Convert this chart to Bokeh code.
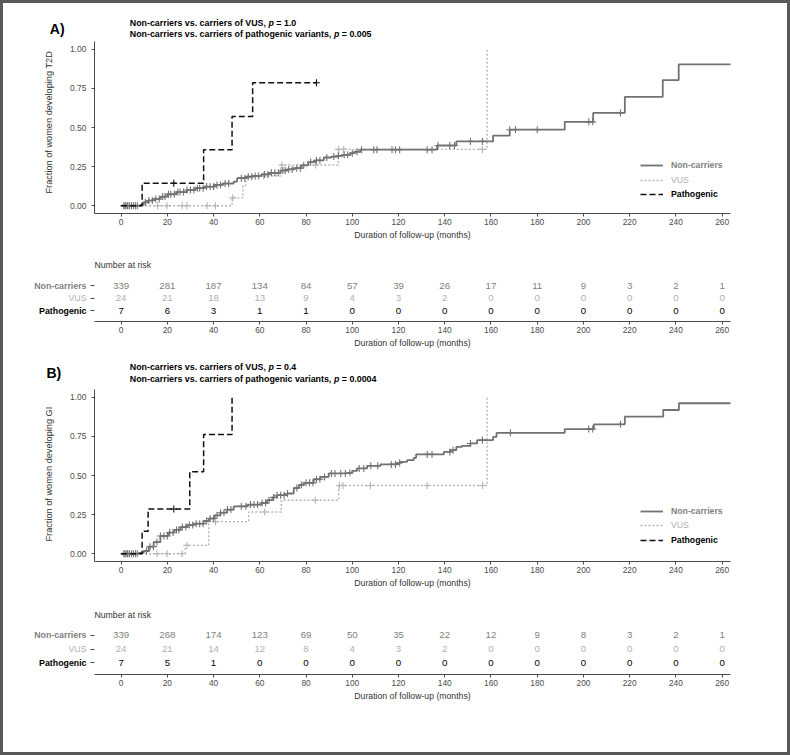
import numpy as np
from bokeh.plotting import figure
from bokeh.models import (Range1d, FixedTicker, Label, Legend, LegendItem, Title,
                          NumeralTickFormatter, ColumnDataSource)
from bokeh.layouts import column, row
from bokeh.embed import file_html
from bokeh.resources import INLINE
from bokeh.core.properties import value

FONT = "Liberation Sans"

# ---------------- data ----------------
x_ticks = list(range(0, 261, 20))
risk_times = list(range(0, 261, 20))
groups = ["Non-carriers", "VUS", "Pathogenic"]

# Panel A (T2D): cumulative fraction, step curves
a_non_t = [0, 8.5, 9.8, 12.0, 14.1, 17.0, 20.0, 24.0, 28.5, 32.0, 36.0, 40.5, 44.0, 48.7, 50.2, 54.0,
           57.0, 60.7, 64.0, 68.9, 72.0, 74.7, 78.0, 80.9, 84.0, 87.7, 91.0, 93.4, 96.0, 99.2, 101.0,
           103.5, 136.7, 145.0, 160.9, 168.1, 191.9, 204.2, 217.9, 234.3, 241.2, 264.0]
a_non_f = [0, 0.006, 0.022, 0.033, 0.043, 0.058, 0.073, 0.087, 0.100, 0.112, 0.122, 0.133, 0.142, 0.154,
           0.176, 0.185, 0.190, 0.200, 0.210, 0.225, 0.232, 0.240, 0.258, 0.279, 0.290, 0.308, 0.314,
           0.319, 0.325, 0.336, 0.345, 0.358, 0.385, 0.411, 0.448, 0.486, 0.536, 0.593, 0.696, 0.803,
           0.904, 0.904]
a_non_cens = [1.2, 2.0, 2.8, 3.6, 4.5, 5.3, 6.2, 7.0, 10.5, 12.0, 13.5, 15.0, 16.5, 18.0, 19.0, 20.5,
              21.5, 23.0, 24.5, 25.5, 27.0, 28.5, 30.0, 31.5, 33.0, 34.0, 35.5, 37.0, 38.5, 40.0, 41.5,
              43.0, 45.0, 46.5, 52.0, 53.5, 55.0, 56.5, 58.0, 59.5, 62.0, 63.5, 65.0, 66.5, 68.0, 70.0,
              71.0, 72.5, 74.0, 76.0, 77.5, 79.0, 82.0, 84.5, 86.0, 89.0, 92.0, 94.0, 96.5, 98.0, 100.0,
              102.0, 104.0, 109.3, 110.7, 117.2, 118.7, 120.5, 132.4, 134.5, 137.1, 142.2, 144.2, 151.1,
              156.3, 168.1, 170.6, 180.0, 202.3, 204.0, 216.0]
a_vus_t = [0, 48.0, 52.7, 54.0, 69.0, 94.0, 158.3]
a_vus_f = [0, 0.05, 0.13, 0.19, 0.26, 0.36, 1.0]
a_vus_cens = [1.5, 2.5, 3.5, 15.8, 19.9, 26.4, 28.5, 37.2, 40.8, 48.3, 61.7, 69.6, 84.1, 94.1, 96.3, 156.3]
a_pat_t = [0, 9.1, 35.7, 48.0, 56.9, 84.5]
a_pat_f = [0, 0.143, 0.357, 0.571, 0.786, 0.786]
a_pat_cens = [22.8, 84.5]

a_risk_non = [339, 281, 187, 134, 84, 57, 39, 26, 17, 11, 9, 3, 2, 1]
a_risk_vus = [24, 21, 18, 13, 9, 4, 3, 2, 0, 0, 0, 0, 0, 0]
a_risk_pat = [7, 6, 3, 1, 1, 0, 0, 0, 0, 0, 0, 0, 0, 0]

# Panel B (GI)
b_non_t = [0, 7.6, 9.8, 12.0, 14.1, 17.0, 20.3, 23.0, 25.7, 28.5, 31.4, 35.7, 38.0, 40.5, 43.0, 45.9,
           48.7, 54.6, 60.7, 63.2, 65.5, 67.5, 71.8, 74.7, 77.0, 79.0, 83.3, 86.2, 89.8, 97.8, 100.0,
           102.1, 106.4, 112.2, 119.4, 120.8, 123.7, 126.6, 127.6, 139.6, 142.5, 145.0, 147.5, 151.1,
           154.0, 160.9, 162.4, 191.9, 204.5, 217.9, 234.5, 241.3, 264.0]
b_non_f = [0, 0.005, 0.017, 0.045, 0.074, 0.113, 0.135, 0.152, 0.170, 0.183, 0.192, 0.209, 0.225, 0.245,
           0.262, 0.282, 0.303, 0.314, 0.324, 0.342, 0.360, 0.374, 0.385, 0.420, 0.440, 0.453, 0.476,
           0.491, 0.513, 0.517, 0.530, 0.545, 0.562, 0.571, 0.581, 0.587, 0.598, 0.613, 0.635, 0.651,
           0.662, 0.683, 0.690, 0.705, 0.726, 0.747, 0.773, 0.797, 0.827, 0.876, 0.919, 0.962, 0.962]
b_non_cens = [1.2, 2.0, 2.8, 3.6, 4.5, 5.3, 6.2, 7.0, 11.0, 12.5, 14.0, 15.5, 17.0, 18.5, 20.0, 21.0,
              22.5, 24.0, 25.0, 26.5, 28.0, 29.5, 31.0, 32.5, 34.0, 35.5, 37.0, 38.5, 40.0, 41.5, 43.0,
              44.5, 46.0, 47.5, 52.0, 54.0, 56.0, 57.5, 59.0, 61.0, 62.5, 64.0, 66.0, 67.5, 69.0, 70.5,
              72.0, 76.0, 78.0, 80.0, 81.5, 83.0, 84.5, 86.0, 88.0, 91.0, 92.5, 95.0, 97.0, 99.0, 103.0,
              105.0, 108.0, 111.0, 116.9, 118.7, 120.5, 132.4, 134.5, 142.2, 143.6, 151.1, 156.3, 168.4,
              202.3, 204.0, 216.0]
b_vus_t = [0, 27.8, 37.9, 55.2, 69.3, 94.1, 158.3]
b_vus_f = [0, 0.053, 0.205, 0.267, 0.342, 0.436, 1.0]
b_vus_cens = [1.5, 2.5, 3.5, 15.5, 19.9, 26.4, 28.5, 40.8, 62.1, 84.0, 94.5, 96.0, 107.8, 132.4, 156.4]
b_pat_t = [0, 9.1, 11.7, 29.7, 35.7, 48.0]
b_pat_f = [0, 0.143, 0.286, 0.524, 0.762, 1.0]
b_pat_cens = [22.8]

b_risk_non = [339, 268, 174, 123, 69, 50, 35, 22, 12, 9, 8, 3, 2, 1]
b_risk_vus = [24, 21, 14, 12, 8, 4, 3, 2, 0, 0, 0, 0, 0, 0]
b_risk_pat = [7, 5, 1, 0, 0, 0, 0, 0, 0, 0, 0, 0, 0, 0]

# ---------------- styling / layout ----------------
W = 784                      # inner width (inside the 3px frame)
LEFT, FRAME_W = 91, 636
RIGHT = W - LEFT - FRAME_W
LBL_W = 86                   # width of the strip holding the risk-table row labels
XMIN, XMAX = -11.5, 263.6
C_NON, C_VUS, C_PAT = "#727272", "#b4b4b4", "#111111"
T_NON, T_VUS, T_PAT = "#7f7f7f", "#b0b0b0", "#000000"
STYLES = ["bold", "normal", "bold"]
AX_COL = "#4a4a4a"
TICK_LBL = "#4d4d4d"


def km_at(t, f, times):
    t = np.asarray(t); f = np.asarray(f)
    idx = np.searchsorted(t, np.asarray(times), side="right") - 1
    return f[idx]


def clean(p):
    p.outline_line_color = None
    p.background_fill_color = "white"
    p.border_fill_color = "white"
    return p


def style_xaxis(p):
    ax = p.xaxis[0]
    ax.ticker = FixedTicker(ticks=x_ticks)
    ax.axis_label = "Duration of follow-up (months)"
    ax.axis_label_text_font = FONT
    ax.axis_label_text_font_size = "8.7px"
    ax.axis_label_text_font_style = "normal"
    ax.axis_label_text_color = "#333333"
    ax.axis_label_standoff = 2
    ax.major_label_text_font = FONT
    ax.major_label_text_font_size = "8.4px"
    ax.major_label_text_color = TICK_LBL
    ax.major_label_standoff = 2
    ax.axis_line_color = AX_COL
    ax.major_tick_line_color = AX_COL
    ax.major_tick_out = 3
    ax.major_tick_in = 0
    ax.minor_tick_line_color = None


def base_fig(w, h, top, bottom, left, y_range):
    p = figure(width=w, height=h, x_range=Range1d(XMIN, XMAX), y_range=y_range,
               output_backend="svg", toolbar_location=None, frame_align=False,
               min_border_left=left, min_border_right=RIGHT,
               min_border_top=top, min_border_bottom=bottom)
    clean(p)
    p.xgrid.visible = False
    p.ygrid.visible = False
    style_xaxis(p)
    return p


def strip(w, h, top=0, bottom=0, y_range=None):
    p = figure(width=w, height=h, x_range=Range1d(0, w),
               y_range=y_range if y_range is not None else Range1d(h, 0),
               x_axis_type=None, y_axis_type=None, output_backend="svg", toolbar_location=None,
               frame_align=False,
               min_border_left=0, min_border_right=0, min_border_top=top, min_border_bottom=bottom)
    return clean(p)


def title_strip(h, letter, lx, ly, x0, y1, y2, t1, p1, t2, p2):
    p = strip(W, h)
    p.add_layout(Label(x=lx, y=ly, text=letter, text_font=FONT, text_font_size="14px",
                       text_font_style="bold", text_baseline="middle", text_color="#000000"))
    s = 8.85
    # widths (em, Arial/Liberation Sans Bold) of the text before the italic "p"
    for (txt, pre, pv, yy) in [(t1, 15.673, p1, y1), (t2, 23.064, p2, y2)]:
        p.add_layout(Label(x=x0, y=yy, text=txt, text_font=FONT, text_font_size=f"{s}px",
                           text_font_style="bold", text_baseline="middle", text_color="#000000"))
        p.add_layout(Label(x=x0 + pre * s, y=yy, text="p", text_font=FONT, text_font_size=f"{s}px",
                           text_font_style="bold italic", text_baseline="middle", text_color="#000000"))
        p.add_layout(Label(x=x0 + (pre + 0.611 + 0.278) * s, y=yy, text="= " + pv, text_font=FONT,
                           text_font_size=f"{s}px", text_font_style="bold", text_baseline="middle",
                           text_color="#000000"))
    return p


def km_fig(h, top, bottom, ylabel, non, vus, pat, legend_y):
    p = base_fig(W, h, top, bottom, LEFT, Range1d(-0.05, 1.05))
    ay = p.yaxis[0]
    ay.ticker = FixedTicker(ticks=[0, 0.25, 0.5, 0.75, 1.0])
    ay.formatter = NumeralTickFormatter(format="0.00")
    ay.major_label_text_font = FONT
    ay.major_label_text_font_size = "8.5px"
    ay.major_label_text_color = TICK_LBL
    ay.major_label_standoff = 5
    ay.axis_line_color = AX_COL
    ay.major_tick_line_color = AX_COL
    ay.major_tick_out = 3
    ay.major_tick_in = 0
    ay.minor_tick_line_color = None
    # y-axis title: starts a fixed distance above the frame bottom (as in the reference)
    p.add_layout(Title(text=ylabel, align="left", offset=20, standoff=25, vertical_align="bottom",
                       text_font=FONT, text_font_size="9.2px", text_font_style="normal",
                       text_color="#333333"), "left")

    specs = {"VUS": (vus, C_VUS, "2 2", 1.4), "Non-carriers": (non, C_NON, "solid", 1.8),
             "Pathogenic": (pat, C_PAT, "6 3", 1.5)}
    rends = {}
    for name in ["VUS", "Non-carriers", "Pathogenic"]:
        (t, f, cens), col, dash, lw = specs[name]
        rends[name] = p.step(t, f, mode="after", line_color=col, line_dash=dash, line_width=lw)
        p.scatter(cens, km_at(t, f, cens), marker="cross", size=7, line_color=col, line_width=1.1)

    for name, tcol, fst, ly in zip(groups, [T_NON, T_VUS, T_PAT], STYLES, legend_y):
        lg = Legend(items=[LegendItem(label=name, renderers=[rends[name]])], location=(546, ly),
                    label_text_font=FONT, label_text_font_size="8.7px", label_text_font_style=fst,
                    label_text_color=tcol, glyph_width=23, glyph_height=12, label_height=12,
                    label_standoff=8, padding=0, margin=0, spacing=0,
                    border_line_color=None, background_fill_alpha=0)
        p.add_layout(lg)
    return p


def risk_row(h, top, bottom, y_rng, rows, title_standoff):
    # left strip with coloured row labels
    lab = strip(LBL_W, h, top=top, bottom=bottom, y_range=Range1d(*y_rng))
    for yv, name, col, fst in zip([3, 2, 1], groups, [T_NON, T_VUS, T_PAT], STYLES):
        lab.text(x=[LBL_W - 3], y=[yv], text=[name], text_align="right", text_baseline="middle",
                 text_font=value(FONT), text_font_size=value("8.8px"), text_font_style=value(fst),
                 text_color=col)

    p = base_fig(W - LBL_W, h, top, bottom, LEFT - LBL_W, Range1d(*y_rng))
    ay = p.yaxis[0]
    ay.ticker = FixedTicker(ticks=[1, 2, 3])
    ay.major_label_overrides = {1: "", 2: "", 3: ""}
    ay.major_label_standoff = 0
    ay.axis_line_color = None
    ay.major_tick_line_color = AX_COL
    ay.major_tick_out = 4
    ay.major_tick_in = 0
    ay.minor_tick_line_color = None

    xs, ys, txt, cols = [], [], [], []
    for yv, vals, col in zip([3, 2, 1], rows, [T_NON, T_VUS, T_PAT]):
        for t, v in zip(risk_times, vals):
            xs.append(t); ys.append(yv); txt.append(str(v)); cols.append(col)
    src = ColumnDataSource(dict(x=xs, y=ys, text=txt, color=cols))
    p.text(x="x", y="y", text="text", text_color="color", source=src, text_align="center",
           text_baseline="middle", text_font=value(FONT), text_font_size=value("9.7px"))

    p.add_layout(Title(text="Number at risk", align="left", offset=0, standoff=title_standoff,
                       vertical_align="bottom", text_font=FONT, text_font_size="8.7px",
                       text_font_style="normal", text_color="#333333"), "above")
    return row(lab, p, spacing=0)


tA = title_strip(36, "A)", 46.3, 25.5, 126.3, 19.7, 30.3,
                 "Non-carriers vs. carriers of VUS,", "1.0",
                 "Non-carriers vs. carriers of pathogenic variants,", "0.005")
fA = km_fig(207, 2, 33, "Fraction of women developing  T2D",
            (a_non_t, a_non_f, a_non_cens), (a_vus_t, a_vus_f, a_vus_cens),
            (a_pat_t, a_pat_f, a_pat_cens), [42.5, 27.5, 13.5])
# risk table A: rows 12.5 px apart, frame 276..321 (page px)
rA = risk_row(109, 30, 34, (0.12, 3.72), [a_risk_non, a_risk_vus, a_risk_pat], 14)

tB = title_strip(30, "B)", 43.0, 17.0, 126.3, 11.3, 23.0,
                 "Non-carriers vs. carriers of VUS,", "0.4",
                 "Non-carriers vs. carriers of pathogenic variants,", "0.0004")
fB = km_fig(215, 4, 39, "Fraction of women developing GI",
            (b_non_t, b_non_f, b_non_cens), (b_vus_t, b_vus_f, b_vus_cens),
            (b_pat_t, b_pat_f, b_pat_cens), [44.5, 29.8, 15.5])
# risk table B: rows 14 px apart, frame 625..674 (page px)
rB = risk_row(152, 25, 78, (0.143, 3.643), [b_risk_non, b_risk_vus, b_risk_pat], 14)

layout = column(tA, fA, rA, tB, fB, rB, spacing=0,
                styles={"border": "3px solid #595959", "background-color": "white"})
open("out.html", "w").write(file_html(layout, INLINE))
